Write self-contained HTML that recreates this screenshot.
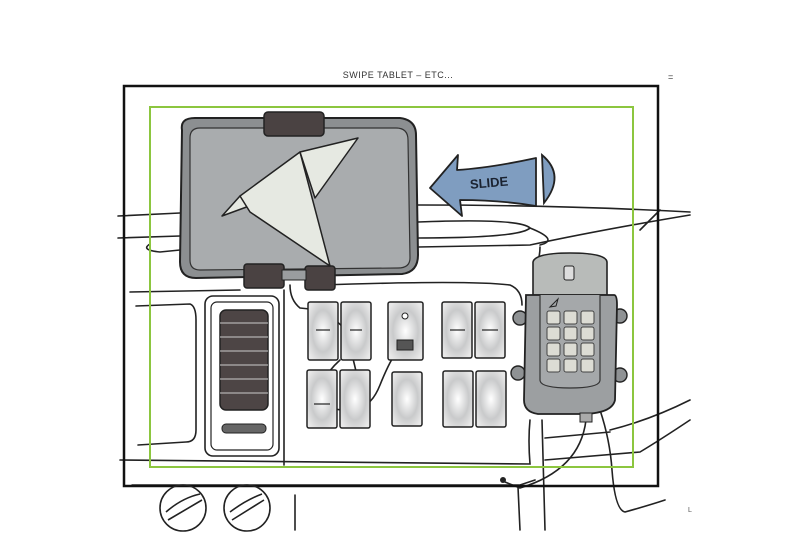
<!DOCTYPE html>
<html><head><meta charset="utf-8"><style>
html,body{margin:0;padding:0;background:#fff;}
svg{display:block;}
</style></head><body>
<svg width="796" height="547" viewBox="0 0 796 547" xmlns="http://www.w3.org/2000/svg" font-family="Liberation Sans, sans-serif">
<defs>
<radialGradient id="sw" cx="0.5" cy="0.5" r="0.6"><stop offset="0" stop-color="#ffffff"/><stop offset="0.6" stop-color="#c9cacb"/><stop offset="1" stop-color="#e8e8e8"/></radialGradient>
</defs>
<rect width="796" height="547" fill="#fff"/>
<text x="398" y="78" font-size="9" text-anchor="middle" fill="#333" letter-spacing="0.5">SWIPE TABLET – ETC...</text>
<text x="668" y="80" font-size="9" fill="#333">=</text>
<g fill="none" stroke="#222" stroke-width="1.6" stroke-linecap="round">
<path d="M118 216 L180 213"/>
<path d="M118 238 L180 236"/>
<path d="M150 244 Q140 250 160 252 L180 250"/>
<path d="M418 205 Q560 205 690 212"/>
<path d="M418 222 Q520 218 530 228 Q520 238 418 238"/>
<path d="M418 247 L530 245 Q600 230 690 215"/>
<path d="M530 228 Q560 240 540 245"/>
<path d="M660 210 L640 230"/>
<path d="M130 292 L240 290 M320 285 Q470 280 510 285 Q522 290 522 305"/>
<path d="M136 306 L190 304 Q196 306 196 320 L196 430 Q196 442 186 442 L138 445"/>
<path d="M120 460 L530 464 Q528 440 530 420"/>
<path d="M132 485 L520 485 L535 480"/>
<path d="M284 290 L284 465"/>
<path d="M295 495 L295 530"/>
<path d="M518 487 L520 530 M542 420 L545 530"/>
<path d="M545 438 L610 432 M545 460 L640 452 Q660 440 690 420"/>
<path d="M610 430 Q650 420 690 400"/>
<path d="M600 410 Q610 440 612 470 Q615 510 625 512 Q650 505 665 500"/>
<path d="M586 420 Q580 470 520 488 L505 482"/>
<path d="M540 247 Q540 258 535 270"/>
<path d="M290 285 Q290 300 300 308 Q330 310 345 330 Q360 380 360 400 Q345 420 320 400 Q318 380 340 360"/>
<path d="M398 350 Q390 360 380 385 Q370 410 355 405"/>
</g>
<rect x="124" y="86" width="534" height="400" fill="none" stroke="#111" stroke-width="2.5"/>
<rect x="150" y="107" width="483" height="360" fill="none" stroke="#8cc63f" stroke-width="2"/>
<path d="M182 130 Q180 118 195 118 L400 118 Q416 120 416 135 L418 255 Q418 272 402 274 L196 278 Q180 278 180 262 Z" fill="#8c8f91" stroke="#222" stroke-width="2"/>
<path d="M190 138 Q190 128 200 128 L396 128 Q408 128 408 140 L410 258 Q410 268 398 268 L200 270 Q190 270 190 260 Z" fill="#a9acae" stroke="#333" stroke-width="1.2"/>
<rect x="264" y="112" width="60" height="24" rx="4" fill="#4a4242" stroke="#222" stroke-width="1.5"/>
<rect x="244" y="264" width="40" height="24" rx="3" fill="#4a4242" stroke="#222" stroke-width="1.5"/>
<rect x="305" y="266" width="30" height="24" rx="3" fill="#4a4242" stroke="#222" stroke-width="1.5"/>
<rect x="282" y="270" width="24" height="10" fill="#9a9d9f" stroke="#222"/>
<g fill="#e6e9e2" stroke="#222" stroke-width="1.5" stroke-linejoin="round">
<polygon points="222,216 240,196 252,205"/>
<polygon points="240,196 300,152 330,266 250,212"/>
<polygon points="300,152 358,138 315,198"/>
</g>
<path d="M430 188 L458 155 L457 170 Q490 168 536 158 L536 206 Q500 200 460 200 L462 216 Z" fill="#7f9dc0" stroke="#222" stroke-width="1.8" stroke-linejoin="round"/>
<path d="M542 155 Q566 175 544 203 Z" fill="#7f9dc0" stroke="#222" stroke-width="1.8"/>
<text x="470" y="188" font-size="13" font-weight="bold" fill="#1a2230" transform="rotate(-5 480 184)">SLIDE</text>
<rect x="205" y="296" width="74" height="160" rx="8" fill="#fff" stroke="#222" stroke-width="1.6"/>
<rect x="211" y="302" width="62" height="148" rx="6" fill="none" stroke="#222" stroke-width="1.2"/>
<rect x="220" y="310" width="48" height="100" rx="6" fill="#4d4545" stroke="#222" stroke-width="1.5"/>
<g stroke="#ccc" stroke-width="1"><line x1="220" y1="323" x2="268" y2="323"/><line x1="220" y1="337" x2="268" y2="337"/><line x1="220" y1="351" x2="268" y2="351"/><line x1="220" y1="365" x2="268" y2="365"/><line x1="220" y1="379" x2="268" y2="379"/><line x1="220" y1="393" x2="268" y2="393"/></g>
<rect x="222" y="424" width="44" height="9" rx="4" fill="#666" stroke="#222"/>
<g fill="url(#sw)" stroke="#222" stroke-width="1.5">
<rect x="308" y="302" width="30" height="58" rx="2"/><rect x="341" y="302" width="30" height="58" rx="2"/>
<rect x="307" y="370" width="30" height="58" rx="2"/><rect x="340" y="370" width="30" height="58" rx="2"/>
<rect x="388" y="302" width="35" height="58" rx="2"/>
<rect x="392" y="372" width="30" height="54" rx="2"/>
<rect x="442" y="302" width="30" height="56" rx="2"/><rect x="475" y="302" width="30" height="56" rx="2"/>
<rect x="443" y="371" width="30" height="56" rx="2"/><rect x="476" y="371" width="30" height="56" rx="2"/>
</g>
<circle cx="405" cy="316" r="3" fill="#fff" stroke="#222"/>
<rect x="397" y="340" width="16" height="10" fill="#555" stroke="#222"/>
<g stroke="#222" stroke-width="1.2"><line x1="316" y1="330" x2="330" y2="330"/><line x1="350" y1="330" x2="362" y2="330"/><line x1="450" y1="330" x2="465" y2="330"/><line x1="482" y1="330" x2="498" y2="330"/><line x1="314" y1="404" x2="330" y2="404"/></g>
<path d="M533 262 Q535 253 570 253 Q606 253 607 262 L607 295 L533 295 Z" fill="#b8bbb9" stroke="#222" stroke-width="1.6"/>
<rect x="564" y="266" width="10" height="14" rx="2" fill="#ddd" stroke="#222"/>
<g fill="#8f9294" stroke="#222" stroke-width="1.4">
<circle cx="520" cy="318" r="7"/><circle cx="518" cy="373" r="7"/><circle cx="620" cy="316" r="7"/><circle cx="620" cy="375" r="7"/>
</g>
<path d="M526 295 L614 295 Q617 295 617 305 L615 400 Q612 414 580 414 L538 414 Q524 412 524 400 Z" fill="#9c9fa1" stroke="#222" stroke-width="1.8"/>
<path d="M540 295 L540 380 Q540 388 570 388 Q600 388 600 380 L600 295" fill="#a5a8aa" stroke="#333" stroke-width="1.2"/>
<path d="M550 307 L558 299 L556 306 Z" fill="none" stroke="#222"/>
<g fill="#dcdcd4" stroke="#444" stroke-width="1">
<rect x="547" y="311" width="13" height="13" rx="2"/><rect x="564" y="311" width="13" height="13" rx="2"/><rect x="581" y="311" width="13" height="13" rx="2"/>
<rect x="547" y="327" width="13" height="13" rx="2"/><rect x="564" y="327" width="13" height="13" rx="2"/><rect x="581" y="327" width="13" height="13" rx="2"/>
<rect x="547" y="343" width="13" height="13" rx="2"/><rect x="564" y="343" width="13" height="13" rx="2"/><rect x="581" y="343" width="13" height="13" rx="2"/>
<rect x="547" y="359" width="13" height="13" rx="2"/><rect x="564" y="359" width="13" height="13" rx="2"/><rect x="581" y="359" width="13" height="13" rx="2"/>
</g>
<rect x="580" y="413" width="12" height="9" fill="#aaa" stroke="#222"/>
<circle cx="503" cy="480" r="3" fill="#222"/>
<g fill="none" stroke="#222" stroke-width="1.6">
<circle cx="183" cy="508" r="23"/><circle cx="247" cy="508" r="23"/>
<path d="M166 512 Q182 498 200 494 M168 520 Q185 510 202 500"/>
<path d="M230 512 Q246 500 262 494 M232 520 Q248 510 264 500"/>
</g>
<text x="688" y="512" font-size="7" fill="#555">L</text>
</svg>
</body></html>
